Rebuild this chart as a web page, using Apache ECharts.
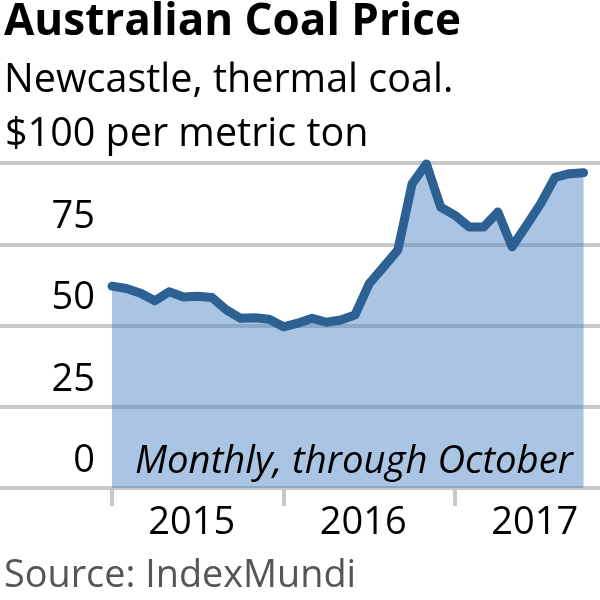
<!DOCTYPE html>
<html><head><meta charset="utf-8">
<script src="https://cdn.jsdelivr.net/npm/echarts@6/dist/echarts.min.js"></script>
<style>html,body{margin:0;padding:0;background:#fff}#c{width:600px;height:600px}</style>
</head><body><div id="c"></div>
<script>
const months = ['2015-01','2015-02','2015-03','2015-04','2015-05','2015-06','2015-07','2015-08','2015-09','2015-10','2015-11','2015-12',
'2016-01','2016-02','2016-03','2016-04','2016-05','2016-06','2016-07','2016-08','2016-09','2016-10','2016-11','2016-12',
'2017-01','2017-02','2017-03','2017-04','2017-05','2017-06','2017-07','2017-08','2017-09','2017-10'];
const prices = [62.1,61.4,59.9,57.6,60.4,58.8,59.0,58.6,54.8,52.2,52.4,51.9,
49.6,50.7,52.2,51.0,51.7,53.2,62.9,68.0,73.2,93.6,99.7,86.4,
83.9,80.3,80.3,84.9,74.2,80.8,87.5,95.6,96.7,97.0];
const yearTicks = [0,12,24];
const yearLabelPos = [6,18,30];
const yearLabels = ['2015','2016','2017'];
const yTicks = [0,25,50,75];
const yTopTick = [100];
const yTopLabel = '$100 per metric ton';

const FONT = 'Open Sans';
const data = prices.map((v,i)=>[i,v]);
const chart = echarts.init(document.getElementById('c'), null, {renderer:'canvas'});
chart.setOption({
  animation:false,
  backgroundColor:'#fff',
  title:[
    {text:'Australian Coal Price', left:4, top:0, padding:0, textStyle:{fontFamily:FONT, fontWeight:'bold', fontSize:44, color:'#000'}},
    {text:'Newcastle, thermal coal.', left:4, top:61, padding:0, textStyle:{fontFamily:FONT, fontWeight:'normal', fontSize:39.5, color:'#000'}}
  ],
  grid:{left:0, right:0, top:163, bottom:112, containLabel:false, outerBoundsMode:'none'},
  xAxis:{type:'value', min:-7.84, max:34.15,
    axisLine:{show:true, onZero:false, lineStyle:{color:'#c8c8c8', width:4}},
    axisTick:{show:true, customValues:yearTicks, length:18, lineStyle:{color:'#c8c8c8', width:4}},
    axisLabel:{customValues:yearLabelPos, formatter:(v)=>yearLabels[yearLabelPos.indexOf(v)], margin:16,
      padding:[0,12,0,0], fontFamily:FONT, fontSize:38, color:'#000'},
    splitLine:{show:false}},
  yAxis:[
    {type:'value', position:'left', min:0, max:100, interval:25,
      axisLine:{show:false}, axisTick:{show:false},
      splitLine:{show:true, lineStyle:{color:'#c8c8c8', width:4}},
      axisLabel:{inside:true, customValues:yTicks, margin:95, align:'right', verticalAlign:'bottom', padding:[0,0,8,0],
        fontFamily:FONT, fontSize:38, color:'#000'}},
    {type:'value', position:'left', offset:0, min:0, max:100,
      axisLine:{show:false}, axisTick:{show:false}, splitLine:{show:false},
      axisLabel:{inside:true, customValues:yTopTick, formatter:()=>yTopLabel, margin:5, align:'left', verticalAlign:'bottom', padding:[0,0,8,0],
        fontFamily:FONT, fontSize:39.5, color:'#000'}}
  ],
  series:[{type:'line', data:data, symbol:'none', smooth:false,
    lineStyle:{color:'#2d6193', width:9, cap:'round', join:'round'},
    areaStyle:{color:'rgba(74,130,198,0.47)', opacity:1}}],
  graphic:[
    {type:'text', left:135, top:443, style:{text:'Monthly, through October', fontFamily:FONT, fontStyle:'italic', fontSize:38.3, fill:'#000'}, z:100},
    {type:'text', left:4, top:557, style:{text:'Source: IndexMundi', fontFamily:FONT, fontSize:37.8, fill:'#555'}, z:100}
  ]
});
</script></body></html>
